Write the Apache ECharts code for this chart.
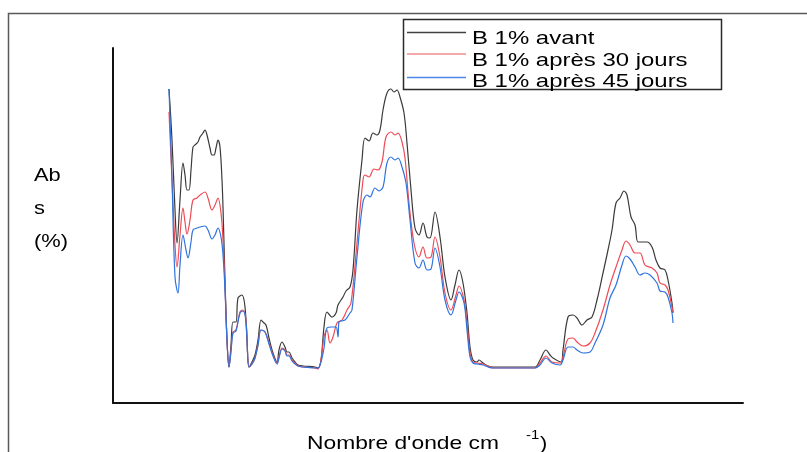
<!DOCTYPE html>
<html><head><meta charset="utf-8">
<script src="https://cdn.jsdelivr.net/npm/echarts@6/dist/echarts.min.js"></script>
<style>html,body{margin:0;padding:0;background:#fff}#c{width:807px;height:452px}</style>
</head><body><div id="c"></div>
<script>
const seriesNames = ['B 1% avant', 'B 1% après 30 jours', 'B 1% après 45 jours'];
const xLabel = "Nombre d'onde cm";
const yLabel = ['Ab', 's', '(%)'];

const xAvant = [56,59,62,64,67,70,72,74,76,78,80,82,85,87,90,92,94,97,99,101,103,105,107,109,110,112,114,116,118,120,123,125,129,132,134,136,139,142,145,148,150,153,156,160,164,166,169,172,174,176,179,182,185,190,202,205,208,211,214,219,223,225,230,233,237,240,244,249,252,256,260,264,267,270,274,278,281,284,287,291,294,298,302,306,310,314,317,322,327,332,338,342,346,350,354,357,360,364,366,370,375,380,397,422,427,433,437,440,448,450,455,460,464,469,474,479,484,490,495,499,503,507,511,514,518,522,525,530,534,539,543,547,552,555,559,560];
const yAvant = [314,263,193,160,203,240,228,213,213,233,256,258,261,266,270,273,268,255,248,248,255,263,256,223,196,123,63,36,58,81,81,105,108,96,63,36,41,48,63,83,81,78,65,50,41,53,61,56,51,51,45,41,38,37,36,35,43,76,91,86,90,98,106,112,116,133,193,243,265,262,270,268,273,293,310,314,311,313,306,290,260,213,175,168,180,166,165,191,166,126,103,118,133,120,90,56,43,41,43,40,37,36,36,36,43,53,48,45,41,53,86,88,85,78,83,86,103,130,153,173,200,205,212,208,186,178,161,161,161,156,143,135,133,123,100,90];

const x30 = [56,59,62,64,67,70,72,74,77,80,84,87,92,95,99,102,105,108,110,112,114,116,118,120,123,127,130,133,136,139,142,145,148,152,156,160,164,166,169,172,174,176,179,182,185,190,202,205,208,211,214,217,220,224,229,234,238,244,250,252,256,261,265,269,273,278,282,285,289,292,296,301,306,310,314,318,322,327,332,338,343,346,351,354,357,360,364,370,375,380,397,422,427,433,439,447,450,455,460,464,470,477,482,490,497,503,509,513,517,522,527,532,539,544,547,552,555,559,560];
const y30 = [291,223,158,136,168,195,181,169,183,203,205,208,211,205,193,198,205,190,163,118,63,36,53,71,73,91,93,83,36,39,45,58,73,71,60,48,40,46,55,53,48,48,43,40,37,36,35,34,43,66,73,60,66,80,83,93,100,160,223,228,226,234,233,241,266,271,268,270,261,245,200,160,146,156,145,146,166,146,110,93,108,117,103,80,50,41,40,39,37,35,35,35,40,47,41,40,46,64,65,61,57,60,70,93,118,136,153,162,158,150,150,138,135,130,120,118,113,96,91];

const x45 = [56,59,62,65,67,70,73,75,78,80,84,87,92,95,99,102,105,108,110,112,114,116,118,120,123,127,130,133,136,139,142,145,148,152,156,160,164,166,169,172,174,176,179,182,185,190,202,205,208,211,214,219,223,225,226,232,237,239,244,250,254,257,262,266,270,274,278,282,285,289,293,297,302,306,310,314,318,322,327,332,338,343,346,351,354,357,360,364,370,375,380,397,422,427,433,439,447,450,455,460,464,470,477,482,490,497,503,509,513,517,522,527,532,537,544,547,552,555,559,560];
const y45 = [314,223,126,110,138,168,153,145,161,173,175,176,177,173,164,168,175,166,148,113,63,36,51,70,72,90,92,81,36,39,45,58,73,71,59,47,39,45,54,52,47,47,42,39,37,36,35,35,41,55,75,76,76,66,81,83,90,93,146,201,208,206,215,212,216,240,246,243,245,236,220,183,140,135,143,133,134,155,136,103,88,103,111,100,73,46,40,39,38,36,35,35,35,38,45,40,38,43,56,56,53,50,51,60,78,105,118,138,147,144,136,128,130,128,120,112,111,106,90,80];

const colors = ['#3a3a3a', '#ee4b55', '#2f74de'];
const legendColors = ['#404040', '#f08c8c', '#4d88e6'];

function pairs(xs, ys) { return xs.map((x, i) => [x, ys[i]]); }
const dataSets = [pairs(xAvant, yAvant), pairs(x30, y30), pairs(x45, y45)];

const chart = echarts.init(document.getElementById('c'), null, {renderer: 'canvas'});
const FONT = '"Liberation Sans", Arial, sans-serif';

const legendRows = [39, 60.5, 82];
const legendLines = [32.5, 54, 77.5];
const graphics = [
  {type: 'rect', shape: {x: 8.5, y: 13.5, width: 830, height: 470}, style: {fill: 'none', stroke: '#5a5a5a', lineWidth: 1.5}, silent: true},
  {type: 'rect', shape: {x: 403.5, y: 19.5, width: 318, height: 70}, style: {fill: '#fff', stroke: '#2a2a2a', lineWidth: 1.5}, z: 10},
];
seriesNames.forEach((n, i) => {
  graphics.push({type: 'line', shape: {x1: 407, y1: legendLines[i], x2: 466, y2: legendLines[i]}, style: {stroke: legendColors[i], lineWidth: 1.3}, z: 11});
  graphics.push({type: 'text', x: 472, y: legendRows[i], scaleX: 1.26, z: 12,
    style: {text: n, font: '19px ' + FONT, fill: '#000', verticalAlign: 'middle', align: 'left'}});
});
const yRows = [176, 209, 242];
yLabel.forEach((t, i) => {
  graphics.push({type: 'text', x: 34, y: yRows[i], scaleX: 1.15,
    style: {text: t, font: '19px ' + FONT, fill: '#000', verticalAlign: 'middle', align: 'left'}});
});
graphics.push({type: 'text', x: 307, y: 444, scaleX: 1.2,
  style: {text: xLabel, font: '19px ' + FONT, fill: '#000', verticalAlign: 'middle', align: 'left'}});
graphics.push({type: 'text', x: 526, y: 435, scaleX: 1.15,
  style: {text: '-1', font: '13px ' + FONT, fill: '#000', verticalAlign: 'middle', align: 'left'}});
graphics.push({type: 'text', x: 540, y: 444, scaleX: 1.15,
  style: {text: ')', font: '19px ' + FONT, fill: '#000', verticalAlign: 'middle', align: 'left'}});

chart.setOption({
  animation: false,
  backgroundColor: '#fff',
  grid: {left: 113, right: 64, top: 48, bottom: 49, containLabel: false},
  xAxis: {type: 'value', min: 0, max: 630, axisLine: {show: true, onZero: false, lineStyle: {color: '#111', width: 2}},
    axisTick: {show: false}, axisLabel: {show: false}, splitLine: {show: false}},
  yAxis: {type: 'value', min: 0, max: 355, axisLine: {show: true, onZero: false, lineStyle: {color: '#111', width: 2}},
    axisTick: {show: false}, axisLabel: {show: false}, splitLine: {show: false}},
  legend: {show: false, data: seriesNames},
  series: dataSets.map((d, i) => ({
    name: seriesNames[i], type: 'line', data: d, smooth: 0.35, showSymbol: false, symbol: 'none',
    lineStyle: {color: colors[i], width: 1.2}, itemStyle: {color: colors[i]}, z: 2 + i
  })),
  graphic: graphics
});
</script></body></html>
